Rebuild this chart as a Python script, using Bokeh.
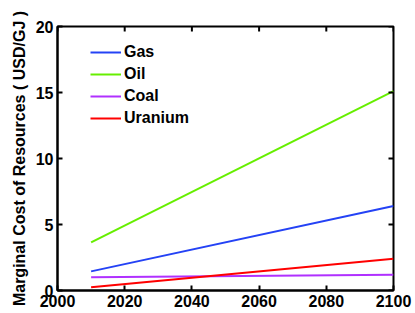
import math
from bokeh.plotting import figure
from bokeh.models import Range1d, FixedTicker, Legend, LegendItem
from bokeh.embed import file_html
from bokeh.resources import INLINE

years = [2010, 2100]
gas = [1.45, 6.4]
oil = [3.65, 15.1]
coal = [1.0, 1.2]
uranium = [0.25, 2.4]
series_names = ["Gas", "Oil", "Coal", "Uranium"]
series_colors = ["#2442f5", "#66ee00", "#b030ff", "#ff0000"]
x_ticks = [2000, 2020, 2040, 2060, 2080, 2100]
y_ticks = [0, 5, 10, 15, 20]
x_min, x_max = 2000, 2100
y_min, y_max = 0, 20

FONT = "Liberation Sans"

p = figure(width=415, height=313, x_range=Range1d(x_min, x_max), y_range=Range1d(y_min, y_max),
           output_backend="svg", toolbar_location=None,
           min_border_left=57, min_border_right=22, min_border_top=26, min_border_bottom=23)
p.xgrid.visible = False
p.ygrid.visible = False
p.outline_line_color = "black"
p.outline_line_width = 2
p.background_fill_color = "white"

renderers = []
for ys, c in zip([gas, oil, coal, uranium], series_colors):
    r = p.line(years, ys, line_color=c, line_width=2)
    renderers.append(r)

# inward ticks on the top and right edges of the box
p.ray(x=x_ticks, y=[y_max] * len(x_ticks), length=5, length_units="screen",
      angle=-math.pi / 2, line_color="black", line_width=2)
p.ray(x=[x_max] * len(y_ticks), y=y_ticks, length=5, length_units="screen",
      angle=math.pi, line_color="black", line_width=2)

for ax, ticks in ((p.xaxis[0], x_ticks), (p.yaxis[0], y_ticks)):
    ax.ticker = FixedTicker(ticks=ticks)
    ax.axis_line_width = 2
    ax.axis_line_color = "black"
    ax.major_tick_in = 5
    ax.major_tick_out = 0
    ax.major_tick_line_width = 2
    ax.minor_tick_line_color = None
    ax.major_label_text_font = FONT
    ax.major_label_text_font_style = "bold"
    ax.major_label_text_font_size = "16px"
    ax.major_label_text_color = "black"
    ax.major_label_standoff = 4

p.yaxis.axis_label = "Marginal Cost of Resources ( USD/GJ )"
p.yaxis.axis_label_text_font = FONT
p.yaxis.axis_label_text_font_style = "bold"
p.yaxis.axis_label_text_font_size = "16px"
p.yaxis.axis_label_text_color = "black"
p.yaxis.axis_label_standoff = 5

legend = Legend(items=[LegendItem(label=n, renderers=[r]) for n, r in zip(series_names, renderers)],
                location=(33, 161), margin=0, padding=0, spacing=0,
                glyph_width=31, glyph_height=22, label_height=22, label_standoff=3,
                label_text_font=FONT, label_text_font_style="bold", label_text_font_size="16px",
                label_text_color="black",
                background_fill_alpha=0, border_line_color=None)
p.add_layout(legend, "center")

open("out.html", "w").write(file_html(p, INLINE))
